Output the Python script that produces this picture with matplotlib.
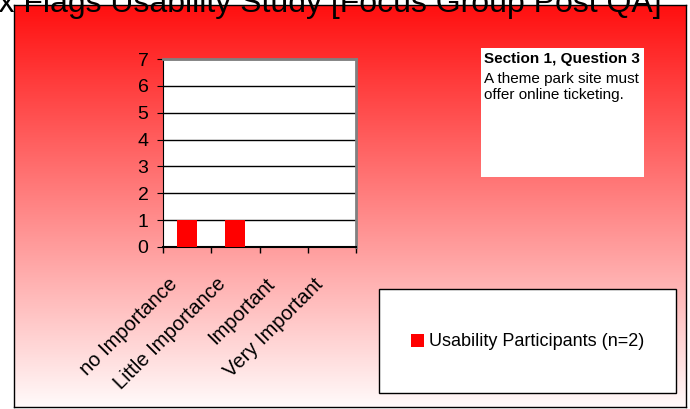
import matplotlib
matplotlib.use("Agg")
import matplotlib.pyplot as plt
import matplotlib.patches as mpatches
from matplotlib.transforms import ScaledTranslation
import numpy as np

plt.rcParams['font.family'] = ['Liberation Sans', 'DejaVu Sans']

# data
categories = ["no Importance", "Little Importance", "Important", "Very Important"]
participants = [1, 1, 0, 0]
series_label = "Usability Participants (n=2)"
title = "Six Flags Usability Study [Focus Group Post QA]"
note_head = "Section 1, Question 3"
note_body = "A theme park site must\noffer online ticketing."

W, H = 690, 409
fig = plt.figure(figsize=(W / 100, H / 100), dpi=100)
fig.patch.set_facecolor('white')

def fx(px):
    return px / W

def fy(py):
    return 1 - py / H

# red-to-white gradient background inside the frame
bg = fig.add_axes([fx(14), fy(407), fx(686 - 14), (407 - 5) / H])
grad = np.linspace(0, 1, 256).reshape(-1, 1)
cols = np.zeros((256, 1, 3))
cols[..., 0] = 1.0
cols[..., 1] = 0.06 + 0.92 * grad
cols[..., 2] = 0.06 + 0.92 * grad
bg.imshow(cols, aspect='auto', extent=[0, 1, 0, 1], origin='upper')
bg.set_xticks([])
bg.set_yticks([])
for s in bg.spines.values():
    s.set_color('black')
    s.set_linewidth(1)
bg.set_zorder(0)

# plot area
ax = fig.add_axes([fx(163), fy(247), fx(356 - 163), (247 - 59) / H])
ax.set_zorder(2)
ax.set_facecolor('white')
x = np.arange(len(categories))
ax.bar(x + 0.5, participants, width=0.41, color='#ff0000', zorder=3, label=series_label)
ax.set_xlim(0, len(categories))
ax.set_ylim(0, 7)
ax.set_yticks(range(0, 8))
ax.yaxis.grid(True, color='black', linewidth=1)
ax.set_axisbelow(True)
ax.set_xticks(np.arange(len(categories) + 1))
ax.set_xticklabels([])
ax.set_xticks(x + 0.5, minor=True)
ax.set_xticklabels(categories, minor=True, rotation=45, ha='right',
                   rotation_mode='anchor', fontsize=14.5)
ax.tick_params(axis='x', which='minor', length=0, pad=14)
ax.tick_params(axis='x', which='major', length=4.5, direction='out', width=1)
ax.tick_params(axis='y', length=4.5, direction='out', labelsize=14, pad=6)
shift = ScaledTranslation(-0.19, -0.08, fig.dpi_scale_trans)
for lbl in ax.get_xticklabels(minor=True):
    lbl.set_transform(lbl.get_transform() + shift)
ax.spines['left'].set_color('black')
ax.spines['bottom'].set_color('black')
ax.spines['bottom'].set_linewidth(1.5)
ax.spines['top'].set_color('#808080')
ax.spines['right'].set_color('#808080')
ax.spines['top'].set_linewidth(2)
ax.spines['right'].set_linewidth(2)

# note box
fig.patches.append(mpatches.Rectangle((fx(481), fy(177)), fx(644 - 481), (177 - 48) / H,
                                      transform=fig.transFigure, facecolor='white',
                                      edgecolor='none', zorder=1))
fig.text(fx(484), fy(52), note_head, fontsize=11, fontweight='bold', va='top', zorder=3)
fig.text(fx(484), fy(72), note_body, fontsize=11, va='top', linespacing=1.15, zorder=3)

# legend box
fig.patches.append(mpatches.Rectangle((fx(379), fy(393)), fx(676 - 379), (393 - 289) / H,
                                      transform=fig.transFigure, facecolor='white',
                                      edgecolor='black', linewidth=1, zorder=1))
handles, labels = ax.get_legend_handles_labels()
fig.legend(handles, labels, loc='center', bbox_to_anchor=(fx(528), fy(342)),
           frameon=False, fontsize=13, handlelength=0.7, handleheight=0.7,
           handletextpad=0.3)

# title, partly cut off at the top like the reference
fig.text(fx(316), fy(12), title, fontsize=23, ha='center', va='baseline', zorder=5)

fig.savefig('out.png', dpi=100)
